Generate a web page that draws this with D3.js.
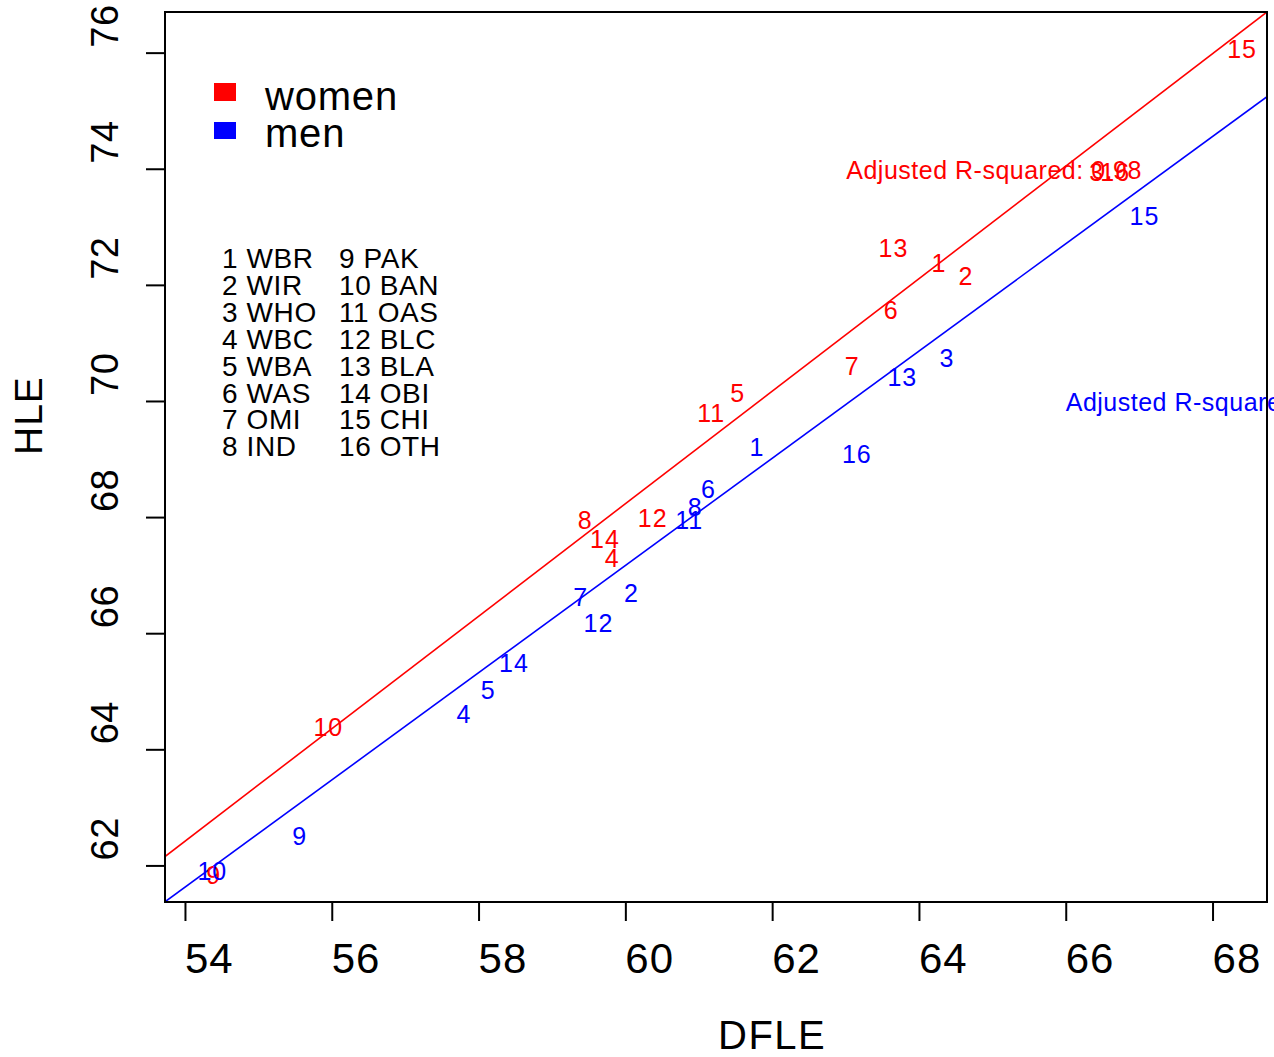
<!DOCTYPE html>
<html>
<head>
<meta charset="utf-8">
<script src="https://cdn.jsdelivr.net/npm/d3@7"></script>
<style>
  html, body { margin: 0; padding: 0; background: #fff; }
  text { font-family: Arial, "Liberation Sans", sans-serif; }
</style>
</head>
<body>
<svg id="chart" width="1274" height="1057"></svg>
<script>
// ---- data ----
const ids = [1, 2, 3, 4, 5, 6, 7, 8, 9, 10, 11, 12, 13, 14, 15, 16];
const codes = ["WBR", "WIR", "WHO", "WBC", "WBA", "WAS", "OMI", "IND",
               "PAK", "BAN", "OAS", "BLC", "BLA", "OBI", "CHI", "OTH"];
const womenDFLE = [64.17, 64.54, 66.32, 59.72, 61.43, 63.52, 62.99, 59.35,
                   54.29, 55.75, 60.98, 60.17, 63.45, 59.52, 68.20, 66.47];
const womenHLE  = [72.37, 72.16, 73.95, 67.29, 70.14, 71.57, 70.61, 67.95,
                   61.84, 64.39, 69.80, 67.98, 72.63, 67.62, 76.06, 73.95];
const menDFLE   = [61.69, 59.98, 64.28, 57.70, 58.03, 61.03, 59.29, 60.85,
                   55.46, 54.17, 60.68, 59.43, 63.57, 58.28, 66.87, 62.95];
const menHLE    = [69.21, 66.70, 70.74, 64.61, 65.03, 68.48, 66.62, 68.17,
                   62.51, 61.91, 67.95, 66.18, 70.42, 65.49, 73.19, 69.09];
// regression lines: [intercept, slope]
const fitWomen = [10.09, 0.969];
const fitMen   = [11.75, 0.9236];
const r2Women = "Adjusted R-squared: 0.98";
const r2Men   = "Adjusted R-squared: 0.97";
const r2WomenPos = [63.01, 73.97];
const r2MenPos   = [66.0, 69.98];
const xTicks = [54, 56, 58, 60, 62, 64, 66, 68];
const yTicks = [62, 64, 66, 68, 70, 72, 74, 76];
const seriesNames = ["women", "men"];
const seriesColors = ["#ff0000", "#0000ff"];

// ---- layout ----
const L = 165, R = 1267, T = 12, B = 902;
const svg = d3.select("#chart");
const x = d3.scaleLinear().domain([53.728, 68.742]).range([L, R]);
const y = d3.scaleLinear().domain([61.37, 76.70]).range([B, T]);

svg.append("defs").append("clipPath").attr("id", "plotclip")
  .append("rect").attr("x", L).attr("y", T).attr("width", R - L).attr("height", B - T);

// axes (ticks only, labels drawn start-anchored as in the reference)
const xAxis = svg.append("g").attr("transform", `translate(0,${B})`)
  .call(d3.axisBottom(x).tickValues(xTicks).tickSize(19).tickFormat(""));
xAxis.select(".domain").remove();
xAxis.selectAll("line").attr("stroke", "#000").attr("stroke-width", 2);
svg.append("g").selectAll("text").data(xTicks).join("text")
  .attr("x", d => x(d)).attr("y", 973)
  .attr("font-size", 42).attr("letter-spacing", 1).attr("fill", "#000").attr("text-anchor", "start")
  .text(d => d);

const yAxis = svg.append("g").attr("transform", `translate(${L},0)`)
  .call(d3.axisLeft(y).tickValues(yTicks).tickSize(19).tickFormat(""));
yAxis.select(".domain").remove();
yAxis.selectAll("line").attr("stroke", "#000").attr("stroke-width", 2);
svg.append("g").selectAll("text").data(yTicks).join("text")
  .attr("transform", d => `translate(118,${y(d) - 5}) rotate(-90)`)
  .attr("font-size", 38).attr("letter-spacing", 0.5).attr("fill", "#000").attr("text-anchor", "start")
  .text(d => d);

// axis titles
svg.append("text").attr("x", (L + R) / 2 + 2).attr("y", 1049)
  .attr("font-size", 40).attr("letter-spacing", 1.5).attr("text-anchor", "start").text("DFLE");
svg.append("text").attr("transform", `translate(42,${(T + B) / 2 - 2}) rotate(-90)`)
  .attr("font-size", 39).attr("letter-spacing", 1).attr("text-anchor", "start").text("HLE");

// plot content
const plot = svg.append("g").attr("clip-path", "url(#plotclip)");
const xd = x.domain();
[[fitWomen, seriesColors[0]], [fitMen, seriesColors[1]]].forEach(([f, c]) => {
  plot.append("line")
    .attr("x1", x(xd[0])).attr("y1", y(f[0] + f[1] * xd[0]))
    .attr("x2", x(xd[1])).attr("y2", y(f[0] + f[1] * xd[1]))
    .attr("stroke", c).attr("stroke-width", 1.6);
});

const pts = svg.append("g");
function drawLabels(dx, dy, color) {
  pts.append("g").selectAll("text").data(ids).join("text")
    .attr("x", (d, i) => x(dx[i])).attr("y", (d, i) => y(dy[i]))
    .attr("dy", "0.36em").attr("font-size", 25).attr("letter-spacing", 1).attr("fill", color)
    .attr("text-anchor", "start").text(d => d);
}
drawLabels(womenDFLE, womenHLE, seriesColors[0]);
drawLabels(menDFLE, menHLE, seriesColors[1]);

svg.append("text").attr("x", x(r2WomenPos[0])).attr("y", y(r2WomenPos[1]))
  .attr("dy", "0.36em").attr("font-size", 25).attr("letter-spacing", 0.5)
  .attr("fill", seriesColors[0]).text(r2Women);
svg.append("text").attr("x", x(r2MenPos[0])).attr("y", y(r2MenPos[1]))
  .attr("dy", "0.36em").attr("font-size", 25).attr("letter-spacing", 0.5)
  .attr("fill", seriesColors[1]).text(r2Men);

// legend
const leg = svg.append("g");
seriesNames.forEach((n, i) => {
  leg.append("rect").attr("x", 214).attr("y", i === 0 ? 83 : 122)
    .attr("width", 22).attr("height", i === 0 ? 18 : 17).attr("fill", seriesColors[i]);
  leg.append("text").attr("x", 265).attr("y", i === 0 ? 110 : 147)
    .attr("font-size", 40).attr("letter-spacing", 0.8).attr("fill", "#000").text(n);
});

// country key
const key = svg.append("g");
ids.forEach((id, i) => {
  const col = i < 8 ? 0 : 1;
  const row = i % 8;
  key.append("text").attr("x", col === 0 ? 222 : 339).attr("y", 268 + row * 26.9)
    .attr("font-size", 28).attr("letter-spacing", 0.6).attr("fill", "#000")
    .text(id + " " + codes[i]);
});

// box
svg.append("rect").attr("x", L).attr("y", T).attr("width", R - L).attr("height", B - T)
  .attr("fill", "none").attr("stroke", "#000").attr("stroke-width", 2);
</script>
</body>
</html>
